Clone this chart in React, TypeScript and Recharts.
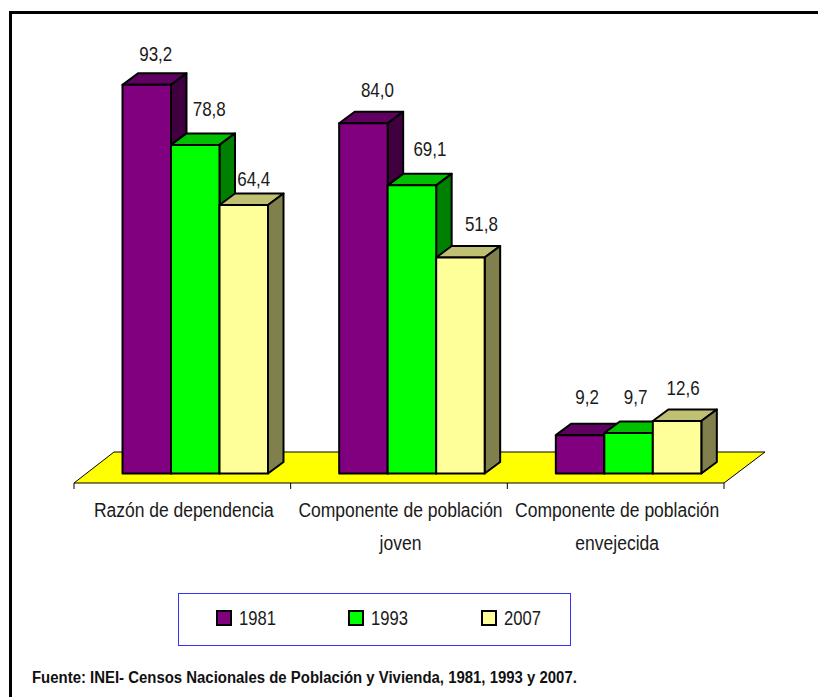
import React from 'react';
import { BarChart, Bar, XAxis, YAxis, LabelList, Legend, usePlotArea } from 'recharts';

const categories = [
    ['Razón de dependencia'],
    ['Componente de población', 'joven'],
    ['Componente de población', 'envejecida'],
];
const values1981 = [93.2, 84.0, 9.2];
const values1993 = [78.8, 69.1, 9.7];
const values2007 = [64.4, 51.8, 12.6];
const years = ['1981', '1993', '2007'];
const source = 'Fuente: INEI- Censos Nacionales de Población y Vivienda, 1981, 1993 y 2007.';

const chartData = categories.map((lines, i) => ({
    name: lines.join(' '),
    lines,
    y1981: values1981[i],
    y1993: values1993[i],
    y2007: values2007[i],
}));

// front, top, side
const palette: Record<string, string[]> = {
    '1981': ['#800080', '#600060', '#400040'],
    '1993': ['#00ff00', '#00c000', '#008000'],
    '2007': ['#ffff99', '#c0c073', '#80804d'],
};

// hand placement of the value labels, [dx, dy] from the middle of the bar's top edge
const labelNudge: Record<string, number[][]> = {
    '1981': [[9, -31], [14, -33], [7, -38]],
    '1993': [[14, -36], [18, -36], [7, -36]],
    '2007': [[10, -26], [21, -33], [6, -33]],
};

const DEPTH_X = 15.5;
const DEPTH_Y = 11.5;
const FLOOR_X = 12.5;
const FLOOR_Y = 9.5;
const FONT = '"Liberation Sans", Arial, sans-serif';

const Box3D = (props: any) => {
    const { x, y, width, height, colors } = props;
    const r = x + width;
    const b = y + height;
    const common = { stroke: '#000', strokeWidth: 2, strokeLinejoin: 'round' as const };
    return (
        <g>
            <polygon {...common} fill={colors[1]} points={`${x},${y} ${x + DEPTH_X},${y - DEPTH_Y} ${r + DEPTH_X},${y - DEPTH_Y} ${r},${y}`} />
            <polygon {...common} fill={colors[2]} points={`${r},${y} ${r + DEPTH_X},${y - DEPTH_Y} ${r + DEPTH_X},${b - DEPTH_Y} ${r},${b}`} />
            <rect {...common} x={x} y={y} width={width} height={height} fill={colors[0]} />
        </g>
    );
};

// yellow floor and the axis with its ticks, they sit in front of the plot like Excel's 3D charts
const Floor = () => {
    const plot = usePlotArea();
    if (!plot) return null;
    const left = plot.x - FLOOR_X;
    const right = left + plot.width;
    const front = plot.y + plot.height + FLOOR_Y;
    const back = front - 31;
    const band = plot.width / categories.length;
    const ticks = [0, 1, 2, 3].map(i => left + band * i);
    return (
        <g>
            <polygon points={`${left},${front} ${left + 40},${back} ${right + 41},${back} ${right},${front}`} fill="#ffff00" stroke="#000" strokeWidth={1} />
            {ticks.map(t => (
                <line key={t} x1={t} x2={t} y1={front} y2={front + 6} stroke="#000" strokeWidth={1} />
            ))}
        </g>
    );
};

const CategoryTick = (props: any) => {
    const { x, payload, index } = props;
    const lines = categories[index] || [payload.value];
    return (
        <g>
            {lines.map((line: string, i: number) => (
                <text
                    key={line}
                    transform={`translate(${x - FLOOR_X + 1.5},${517 + i * 33}) scale(0.875,1)`}
                    textAnchor="middle"
                    fontSize={20}
                    fontFamily={FONT}
                    fill="#1a1a1a"
                >
                    {line}
                </text>
            ))}
        </g>
    );
};

const valueLabel = (year: string) => (props: any) => {
    const { x, y, width, value, index } = props;
    const [dx, dy] = labelNudge[year][index];
    return (
        <text
            transform={`translate(${x + width / 2 + dx},${y + dy + 7}) scale(0.85,1)`}
            textAnchor="middle"
            fontSize={20}
            fontFamily={FONT}
            fill="#1a1a1a"
        >
            {value.toFixed(1).replace('.', ',')}
        </text>
    );
};

const LegendBox = () => (
    <div style={{ position: 'relative', width: 393, height: 53, border: '1.5px solid #3333ff', boxSizing: 'border-box', background: '#fff' }}>
        {years.map((year, i) => (
            <div key={year} style={{ position: 'absolute', left: 36.5 + i * 132.5, top: 15.5, display: 'flex', alignItems: 'center' }}>
                <span style={{ width: 12, height: 12, border: '2px solid #000', background: palette[year][0], display: 'inline-block' }} />
                <span style={{ marginLeft: 7, fontSize: 20, fontFamily: FONT, color: '#1a1a1a', display: 'inline-block', transform: 'scaleX(0.83)', transformOrigin: 'left center', lineHeight: '16px' }}>
                    {year}
                </span>
            </div>
        ))}
    </div>
);

const App: React.FC = () => {
    return (
        <div style={{ position: 'fixed', left: 0, top: 0, width: 818, height: 697, background: '#fff', overflow: 'hidden' }}>
            <div style={{ position: 'absolute', left: 9, top: 11, width: 809, height: 686, borderTop: '3px solid #000', borderLeft: '3px solid #000', boxSizing: 'border-box' }} />
            <BarChart
                width={818}
                height={697}
                data={chartData}
                barCategoryGap={35.6}
                barGap={0}
                barSize={48.5}
                margin={{ top: 56.5, right: 81.5, bottom: 70.5, left: 86.5 }}
                style={{ position: 'absolute', left: 0, top: 0 }}
            >
                <Floor />
                <XAxis dataKey="name" height={100} axisLine={false} tickLine={false} tick={CategoryTick} interval={0} />
                <YAxis hide domain={[0, 100]} />
                <Legend
                    content={<LegendBox />}
                    wrapperStyle={{ position: 'absolute', left: 178, top: 593, width: 393, height: 53, bottom: 'auto' }}
                />
                <Bar dataKey="y1981" name="1981" isAnimationActive={false} fill={palette['1981'][0]} shape={(p: any) => <Box3D {...p} colors={palette['1981']} />}>
                    <LabelList dataKey="y1981" content={valueLabel('1981')} />
                </Bar>
                <Bar dataKey="y1993" name="1993" isAnimationActive={false} fill={palette['1993'][0]} shape={(p: any) => <Box3D {...p} colors={palette['1993']} />}>
                    <LabelList dataKey="y1993" content={valueLabel('1993')} />
                </Bar>
                <Bar dataKey="y2007" name="2007" isAnimationActive={false} fill={palette['2007'][0]} shape={(p: any) => <Box3D {...p} colors={palette['2007']} />}>
                    <LabelList dataKey="y2007" content={valueLabel('2007')} />
                </Bar>
            </BarChart>
            <div style={{ position: 'absolute', left: 32, top: 669, fontFamily: FONT, fontWeight: 'bold', fontSize: 16, color: '#111', whiteSpace: 'nowrap', transform: 'scaleX(0.933)', transformOrigin: 'left center' }}>
                {source}
            </div>
        </div>
    );
};

export default App;
